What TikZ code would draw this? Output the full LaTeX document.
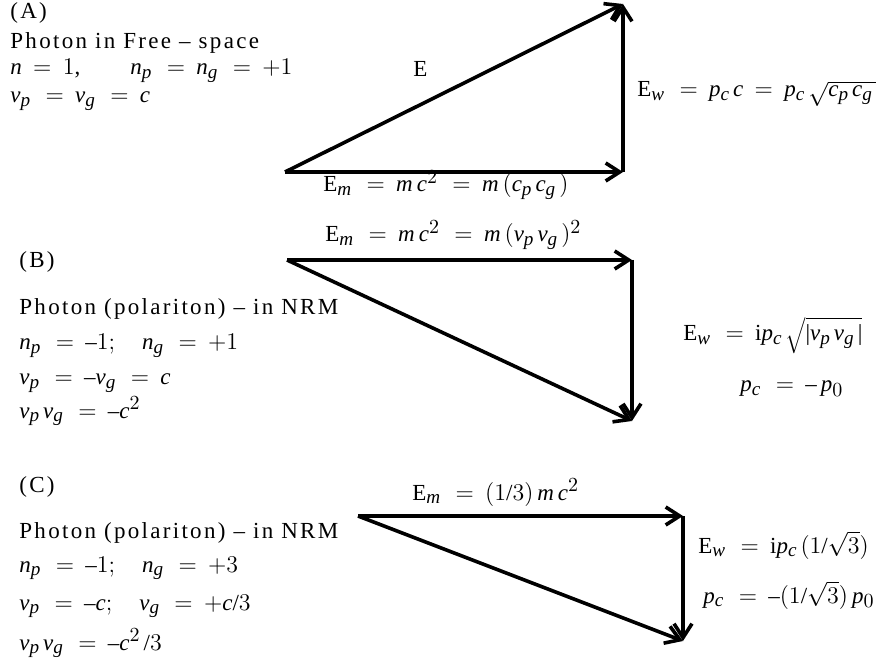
\documentclass[tikz,border=0pt]{standalone}
\usepackage{fontspec}
\setmainfont{Liberation Serif}
\usepackage[italic]{mathastext}
\usepackage{tikz}
\usetikzlibrary{arrows.meta, positioning}
\newcommand\eqspacing{\scriptspace=2pt\relax\thickmuskip=8.5mu\relax\medmuskip=6mu\relax}

\begin{document}
\begin{tikzpicture}[x=0.5pt,y=-0.5pt,
       vec/.style={-{Straight Barb[length=7pt,width=9pt]}, line width=1.8pt},
       txt/.style={anchor=base west, inner sep=0pt, font=\fontsize{11.5}{13}\selectfont\addfontfeatures{LetterSpace=10}},
       eq/.style={anchor=base west, inner sep=0pt, font=\fontsize{11.5}{13}\selectfont\eqspacing}]
       \useasboundingbox (0,0) rectangle (883,662);

       \coordinate (oA) at (285,172);
       \coordinate (hA) at (623,172);
       \coordinate (tA) at (623,4);
       \coordinate (oB) at (287,260);
       \coordinate (hB) at (632,260);
       \coordinate (tB) at (632,421);
       \coordinate (oC) at (358,516);
       \coordinate (hC) at (683,516);
       \coordinate (tC) at (683,641);

       \draw[vec] (oA) -- (hA);
       \draw[vec] (hA) -- (tA);
       \draw[vec] (oA) -- (tA);
       \draw[vec] (oB) -- (hB);
       \draw[vec] (hB) -- (tB);
       \draw[vec] (oB) -- (tB);
       \draw[vec] (oC) -- (hC);
       \draw[vec] (hC) -- (tC);
       \draw[vec] (oC) -- (tC);

       \node[txt] (capA) at (10,19) {(A)};
       \node[txt] (titleA) at (10,49) {Photon in Free -- space};
       \node[eq] (nA) at (10,75) {$n = 1, \qquad n_p = n_g = +1$};
       \node[eq] (vA) at (10,103) {$v_p = v_g = c$};
       \node[eq] (E) at (413,77) {$\mathrm{E}$};
       \node[eq] (EmA) at (323,192) {$\mathrm{E}_m = m\,c^2 = m\,(c_pc_g)$};
       \node[eq] (EwA) at (637,97) {$\mathrm{E}_w = p_cc = p_c\sqrt{c_pc_g}$};

       \node[txt] (capB) at (19,268) {(B)};
       \node[txt] (titleB) at (19,315) {Photon (polariton) -- in NRM};
       \node[eq] (nB) at (19,350) {$n_p = -1; \quad n_g = +1$};
       \node[eq] (vB) at (19,385) {$v_p = -v_g = c$};
       \node[eq] (vvB) at (19,418) {$v_pv_g = -c^2$};
       \node[eq] (EmB) at (325,242) {$\mathrm{E}_m = m\,c^2 = m\,(v_pv_g)^2$};
       \node[eq] (EwB) at (683,341) {$\mathrm{E}_w = \mathrm{i}p_c\sqrt{|v_pv_g|}$};
       \node[eq] (pB) at (740,392) {$p_c = -\,p_0$};

       \node[txt] (capC) at (19,492) {(C)};
       \node[txt] (titleC) at (19,538) {Photon (polariton) -- in NRM};
       \node[eq] (nC) at (19,572) {$n_p = -1; \quad n_g = +3$};
       \node[eq] (vC) at (19,610) {$v_p = -c; \quad v_g = +c/3$};
       \node[eq] (vvC) at (19,650) {$v_pv_g = -c^2/3$};
       \node[eq] (EmC) at (412,500) {$\mathrm{E}_m = (1/3)\,m\,c^2$};
       \node[eq] (EwC) at (698,553) {$\mathrm{E}_w = \mathrm{i}p_c(1/\sqrt{3})$};
       \node[eq] (pC) at (703,603) {$p_c = -(1/\sqrt{3})\,p_0$};
\end{tikzpicture}
\end{document}
